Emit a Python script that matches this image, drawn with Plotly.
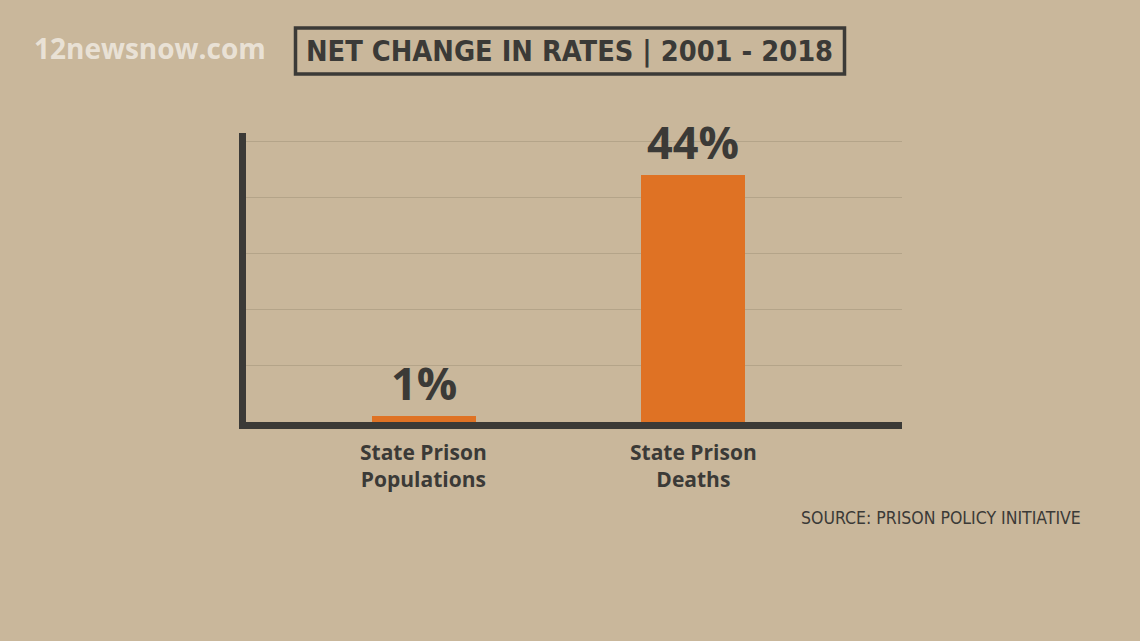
import plotly.graph_objects as go

categories = ["State Prison<br>Populations", "State Prison<br>Deaths"]
values = [1, 44]
value_labels = ["1%", "44%"]
grid_values = [10, 20, 30, 40, 50]

BG = "#c9b79b"
DARK = "#3b3a37"
ORANGE = "#df7224"

W, H = 1140, 641
L, R, T, B = 246, 238, 133, 219
pw = W - L - R
ph = H - T - B

def px_x(px):
    return (px - L) / pw

def px_y(py):
    return (H - B - py) / ph

fig = go.Figure()
fig.add_trace(go.Bar(
    x=[0, 1], y=values, width=0.386,
    marker=dict(color=ORANGE, line=dict(width=0)),
    hoverinfo="skip",
))

for i, (v, t) in enumerate(zip(values, value_labels)):
    fig.add_annotation(x=i, y=v, text=t, showarrow=False, yanchor="bottom",
                       yshift=1, font=dict(family="Open Sans", size=45, color=DARK, weight="bold"))

# category labels
for i, c in enumerate(categories):
    fig.add_annotation(x=i, xref="x", yref="paper", y=px_y(465), text=c,
                       showarrow=False, xanchor="center", yanchor="middle", align="center",
                       font=dict(family="Open Sans", size=21, color=DARK, weight="bold"))

# title box
fig.add_shape(type="rect", xref="paper", yref="paper",
              x0=px_x(295.5), x1=px_x(844.5), y0=px_y(74), y1=px_y(28),
              line=dict(color=DARK, width=3.5), fillcolor="rgba(0,0,0,0)", layer="above")
fig.add_annotation(xref="paper", yref="paper", x=px_x(569), y=px_y(51), text="NET CHANGE IN RATES | 2001 - 2018",
                   showarrow=False, xanchor="center", yanchor="middle",
                   font=dict(family="DejaVu Sans Condensed, Roboto", size=28.7, color=DARK, weight="bold"))
fig.add_annotation(xref="paper", yref="paper", x=px_x(32), y=px_y(48), text="12newsnow.com",
                   showarrow=False, xanchor="left", yanchor="middle",
                   font=dict(family="Open Sans", size=28, color="rgba(242,238,230,0.8)", weight="bold"))
fig.add_annotation(xref="paper", yref="paper", x=px_x(1083), y=px_y(518), text="SOURCE: PRISON POLICY INITIATIVE",
                   showarrow=False, xanchor="right", yanchor="middle",
                   font=dict(family="DejaVu Sans Condensed, Roboto", size=17.5, color=DARK))

fig.update_layout(
    width=W, height=H,
    margin=dict(l=L, r=R, t=T, b=B, pad=0),
    paper_bgcolor=BG, plot_bgcolor=BG,
    showlegend=False,
    bargap=0,
    xaxis=dict(
        range=[-0.660, 1.774], tickmode="array", tickvals=[0, 1], ticktext=categories,
        showticklabels=False,
        showgrid=False, zeroline=False, showline=True, linecolor=DARK, linewidth=7,
        ticks="", fixedrange=True,
    ),
    yaxis=dict(
        range=[0, 51.5], tickmode="array", tickvals=grid_values, showticklabels=False,
        showgrid=True, gridcolor="#b4a489", gridwidth=1, zeroline=False,
        showline=True, linecolor=DARK, linewidth=7, ticks="", fixedrange=True,
    ),
)

fig.write_html("out.html", config={"displayModeBar": False},
               post_script="document.body.style.margin='0';document.body.style.background='" + BG + "';")
